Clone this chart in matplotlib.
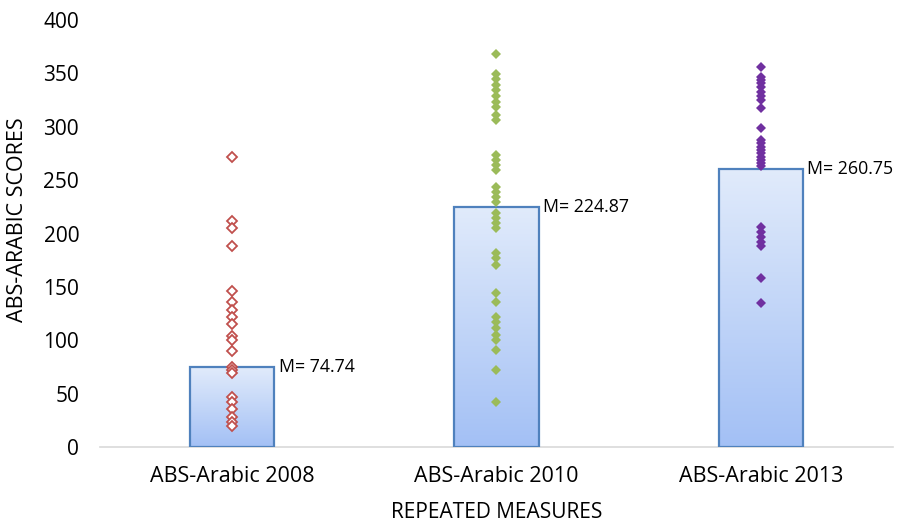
import numpy as np
import matplotlib
matplotlib.use('Agg')
import matplotlib.pyplot as plt
from matplotlib.colors import LinearSegmentedColormap

plt.rcParams['font.family'] = ['Open Sans', 'DejaVu Sans']

categories = ['ABS-Arabic 2008', 'ABS-Arabic 2010', 'ABS-Arabic 2013']
means = [74.74, 224.87, 260.75]

# individual scores per measurement
scores_2008 = [271.4, 211.7, 204.9, 188.3, 146.1, 135.5, 128.3, 122.1, 114.9,
               104.3, 100.2, 90.2, 75.2, 72.1, 69.0, 47.1, 42.5, 35.3, 28.4,
               23.7, 19.7]
scores_2010 = [367.9, 349.1, 344.4, 339.1, 334.4, 329.1, 323.5, 318.8, 311.0,
               306.3, 273.5, 268.8, 264.1, 259.5, 243.9, 239.2, 234.5, 229.8,
               218.9, 214.2, 209.5, 204.8, 182.0, 176.7, 170.5, 144.0, 136.1,
               122.1, 117.4, 111.2, 104.9, 100.2, 90.9, 72.1, 42.0]
scores_2013 = [355.7, 346.9, 343.8, 340.6, 336.8, 332.7, 329.1, 325.1, 317.3,
               298.6, 287.6, 284.5, 281.4, 278.2, 275.1, 272.0, 268.9, 265.8,
               263.2, 206.4, 201.7, 197.0, 192.3, 188.6, 158.0, 134.6]

fig = plt.figure(figsize=(9.04, 5.25), dpi=100)
ax = fig.add_axes([100 / 904, 78 / 525, 793 / 904, 427 / 525])

x = np.arange(len(categories))
bar_w = 0.32

# bars with vertical blue gradient
grad = LinearSegmentedColormap.from_list('bluegrad', ['#a3c0f5', '#e1ebfb'])
bars = ax.bar(x, means, width=bar_w, facecolor='none', edgecolor='#4f81bd',
              linewidth=1.6, zorder=3)
for b in bars:
    x0, y0 = b.get_x(), b.get_y()
    w, h = b.get_width(), b.get_height()
    img = ax.imshow(np.linspace(0, 1, 256).reshape(-1, 1), cmap=grad,
                    extent=[x0, x0 + w, y0, y0 + h], origin='lower',
                    aspect='auto', zorder=2)
    img.set_clip_path(b)

for xi, m in zip(x, means):
    ax.annotate(f'M= {m:.2f}', xy=(xi + bar_w / 2, m), xytext=(3, 0),
                textcoords='offset points', ha='left', va='center',
                fontsize=12.8, color='black', zorder=5)

ax.plot([x[0]] * len(scores_2008), scores_2008, linestyle='none', marker='D',
        markersize=4.6, markerfacecolor='white', markeredgecolor='#c0504d',
        markeredgewidth=1.3, zorder=4)
ax.plot([x[1]] * len(scores_2010), scores_2010, linestyle='none', marker='D',
        markersize=4.8, color='#9bbb59', markeredgewidth=0, zorder=4)
ax.plot([x[2]] * len(scores_2013), scores_2013, linestyle='none', marker='D',
        markersize=4.8, color='#7030a0', markeredgewidth=0, zorder=4)

ax.set_xlim(-0.5, 2.5)
ax.set_ylim(0, 400)
ax.set_yticks(range(0, 401, 50))
ax.set_xticks(x)
ax.set_xticklabels(categories, fontsize=15.5)
ax.tick_params(axis='both', length=0)
ax.tick_params(axis='y', labelsize=15, pad=15)
ax.tick_params(axis='x', pad=14)

for s in ['top', 'right', 'left']:
    ax.spines[s].set_visible(False)
ax.spines['bottom'].set_color('#d9d9d9')
ax.spines['bottom'].set_linewidth(1.2)

ax.set_ylabel('ABS-ARABIC SCORES', fontsize=15.5)
ax.set_xlabel('REPEATED MEASURES', fontsize=15)
ax.yaxis.set_label_coords(-0.091, 0.532)
ax.xaxis.set_label_coords(0.5, -0.128)

fig.savefig('out.png', dpi=100)
